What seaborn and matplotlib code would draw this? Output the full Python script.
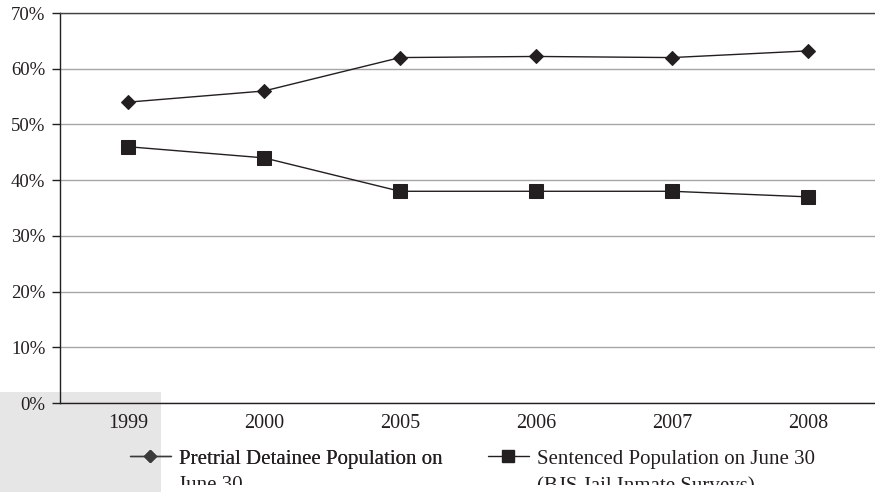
import matplotlib
matplotlib.use("Agg")
import matplotlib.pyplot as plt
import seaborn as sns
import pandas as pd
from matplotlib.lines import Line2D
from matplotlib.patches import Rectangle
from matplotlib.ticker import FuncFormatter
from matplotlib.transforms import Bbox

years = ["1999", "2000", "2005", "2006", "2007", "2008"]
pretrial = [54, 56, 62, 62.2, 62, 63.2]
sentenced = [46, 44, 38, 38, 38, 37]
label_pretrial = "Pretrial Detainee Population on"
label_pretrial_2 = "June 30"
label_sentenced = "Sentenced Population on June 30"
label_sentenced_2 = "(BJS Jail Inmate Surveys)"

df = pd.DataFrame({
    "year": years * 2,
    "value": pretrial + sentenced,
    "series": ["Pretrial"] * len(years) + ["Sentenced"] * len(years),
})

sns.set_style("white")
plt.rcParams["font.family"] = ["Liberation Serif", "DejaVu Serif"]

W, H = 875, 493
fig = plt.figure(figsize=(W / 100, H / 100), dpi=100)
fig.patches.append(Rectangle((0, 1 / H), 161 / W, 100 / H, transform=fig.transFigure,
                             facecolor="#e6e6e6", edgecolor="none", zorder=-5))
ax = fig.add_axes([60 / W, 1 - 403 / H, 816 / W, 390 / H])
ax.patch.set_alpha(0)

dark = "#231f20"
sns.lineplot(data=df, x="year", y="value", hue="series", style="series",
             markers=["D", "s"], dashes=False, palette=[dark, dark],
             markersize=9, linewidth=1, markeredgecolor=dark,
             legend=False, ax=ax, zorder=3)
for ln in ax.get_lines():
    if ln.get_marker() == "D":
        ln.set_markersize(7.5)
    elif ln.get_marker() == "s":
        ln.set_markersize(9.5)

ax.set_xlim(-0.5, 5.5)
ax.set_ylim(0, 70)
ax.set_yticks(range(0, 71, 10))
ax.yaxis.set_major_formatter(FuncFormatter(lambda v, p: f"{int(v)}%"))
ax.yaxis.grid(True, color="#a6a6a6", linewidth=1)
ax.xaxis.grid(False)
ax.set_xticks(range(6))
ax.set_xticklabels(years)
ax.set_xticks([-0.5, 0.5, 1.5, 2.5, 3.5, 4.5, 5.5], minor=True)
ax.tick_params(axis="x", which="major", length=0, pad=8, labelsize=14.5, colors=dark)
ax.tick_params(axis="x", which="minor", length=4, width=1, color=dark, direction="out")
ax.tick_params(axis="y", which="major", length=5.5, width=1, color=dark,
               direction="out", labelsize=13.5, labelcolor=dark, pad=5, left=True)
ax.set_xlabel("")
ax.set_ylabel("")
for s in ["left", "bottom", "top"]:
    ax.spines[s].set_visible(True)
    ax.spines[s].set_color(dark)
    ax.spines[s].set_linewidth(1)
ax.spines["top"].set_color("#404040")
ax.spines["right"].set_visible(False)

fs = 15
h1 = Line2D([], [], color="#3a3a3a", marker="D", markersize=6.5, linewidth=1)
h2 = Line2D([], [], color=dark, marker="s", markersize=8, linewidth=1)
common = dict(loc="center left", frameon=False, fontsize=fs, handlelength=1.95,
              handletextpad=0.4, borderpad=0, borderaxespad=0)
leg1 = fig.legend([h1], [label_pretrial], bbox_to_anchor=(130 / W, 1 - 459 / H), **common)
leg2 = fig.legend([h2], [label_sentenced], bbox_to_anchor=(488 / W, 1 - 459 / H), **common)
fig.add_artist(leg1)
for lg in (leg1, leg2):
    for t in lg.get_texts():
        t.set_color(dark)

clip = Bbox.from_extents(0, H - 485, W, H)
for xpx, txt in [(178, label_pretrial_2), (537, label_sentenced_2)]:
    t = fig.text(xpx / W, 1 - 486 / H, txt, fontsize=fs, color=dark,
                 va="center", ha="left")
    t.set_clip_box(clip)
    t.set_clip_on(True)

fig.savefig("out.png", dpi=100)
